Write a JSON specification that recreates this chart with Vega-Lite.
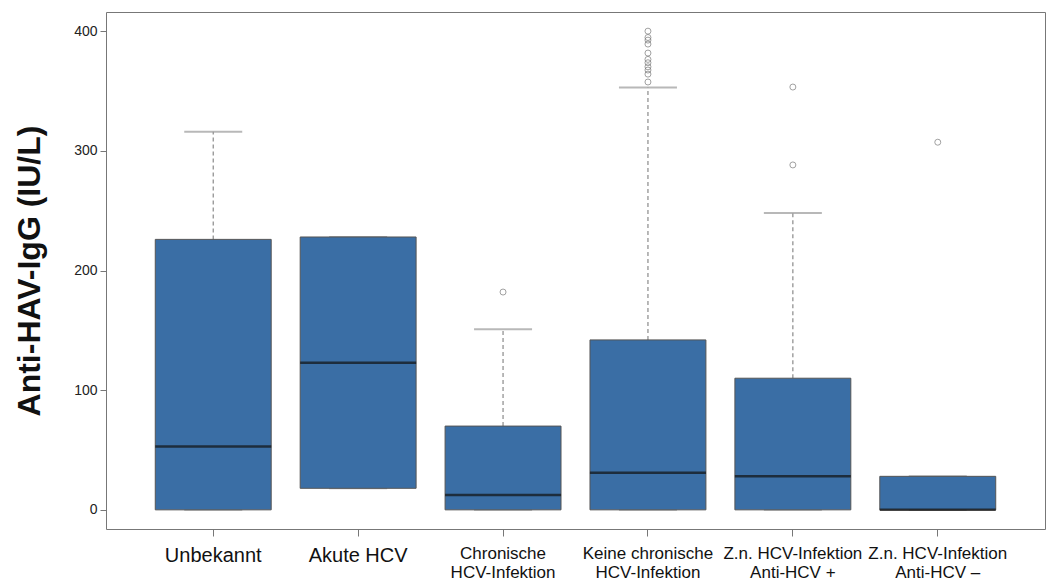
{
  "$schema": "https://vega.github.io/schema/vega-lite/v6.json",
  "width": 939,
  "height": 517,
  "autosize": {"type": "none"},
  "padding": {"left": 106, "top": 12, "right": 10, "bottom": 57},
  "background": "white",
  "config": {
    "font": "Liberation Sans",
    "view": {"stroke": "#777777", "strokeWidth": 1}
  },
  "datasets": {
    "boxes": [
      {"group": "Unbekannt", "lo": 0, "q1": 0, "med": 53, "q3": 226, "hi": 316},
      {"group": "Akute HCV", "lo": 18, "q1": 18, "med": 123, "q3": 228, "hi": 228},
      {"group": "Chronische|HCV-Infektion", "lo": 0, "q1": 0, "med": 12.5, "q3": 70, "hi": 151},
      {"group": "Keine chronische|HCV-Infektion", "lo": 0, "q1": 0, "med": 31, "q3": 142, "hi": 353},
      {"group": "Z.n. HCV-Infektion|Anti-HCV +", "lo": 0, "q1": 0, "med": 28, "q3": 110, "hi": 248},
      {"group": "Z.n. HCV-Infektion|Anti-HCV –", "lo": 0, "q1": 0, "med": 0, "q3": 28, "hi": 28}
    ],
    "outliers": [
      {"group": "Chronische|HCV-Infektion", "value": 182},
      {"group": "Keine chronische|HCV-Infektion", "value": 400},
      {"group": "Keine chronische|HCV-Infektion", "value": 394.7},
      {"group": "Keine chronische|HCV-Infektion", "value": 392.5},
      {"group": "Keine chronische|HCV-Infektion", "value": 389.2},
      {"group": "Keine chronische|HCV-Infektion", "value": 381.7},
      {"group": "Keine chronische|HCV-Infektion", "value": 376.4},
      {"group": "Keine chronische|HCV-Infektion", "value": 373.6},
      {"group": "Keine chronische|HCV-Infektion", "value": 370.2},
      {"group": "Keine chronische|HCV-Infektion", "value": 367.5},
      {"group": "Keine chronische|HCV-Infektion", "value": 364.1},
      {"group": "Keine chronische|HCV-Infektion", "value": 357.5},
      {"group": "Z.n. HCV-Infektion|Anti-HCV +", "value": 288.2},
      {"group": "Z.n. HCV-Infektion|Anti-HCV +", "value": 353.3},
      {"group": "Z.n. HCV-Infektion|Anti-HCV –", "value": 307.2}
    ]
  },
  "encoding": {
    "x": {
      "field": "group",
      "type": "nominal",
      "scale": {
        "type": "band",
        "domain": ["Unbekannt", "Akute HCV", "Chronische|HCV-Infektion", "Keine chronische|HCV-Infektion", "Z.n. HCV-Infektion|Anti-HCV +", "Z.n. HCV-Infektion|Anti-HCV –"],
        "paddingInner": 0.2,
        "paddingOuter": 0.34
      },
      "axis": {
        "title": null,
        "domain": false,
        "tickSize": 7,
        "tickColor": "#777777",
        "labelAngle": 0,
        "labelPadding": 9,
        "labelColor": "#111111",
        "labelFontSize": {"condition": {"test": "indexof(datum.value, '|') < 0", "value": 20}, "value": 17},
        "labelLineHeight": 19,
        "labelLimit": 400,
        "labelOverlap": false,
        "labelExpr": "split(datum.value, '|')"
      }
    }
  },
  "layer": [
    {
      "data": {"name": "boxes"},
      "mark": {"type": "rule", "color": "#8a8a8a", "strokeWidth": 1.2, "strokeDash": [4, 3]},
      "encoding": {
        "y": {
          "field": "q3",
          "type": "quantitative",
          "scale": {"domain": [-16, 416], "nice": false, "zero": false},
          "axis": {
            "title": "Anti-HAV-IgG (IU/L)",
            "titleFontSize": 32,
            "titleFontWeight": "bold",
            "titleColor": "#111111",
            "titlePadding": 27,
            "values": [0, 100, 200, 300, 400],
            "grid": false,
            "domain": false,
            "tickSize": 6,
            "tickColor": "#777777",
            "labelFontSize": 14,
            "labelColor": "#222222",
            "labelPadding": 3
          }
        },
        "y2": {"field": "hi"}
      }
    },
    {
      "data": {"name": "boxes"},
      "mark": {"type": "tick", "color": "#9a9a9a", "thickness": 2, "size": 58, "orient": "horizontal"},
      "encoding": {"y": {"field": "hi", "type": "quantitative"}}
    },
    {
      "data": {"name": "boxes"},
      "mark": {"type": "tick", "color": "#9a9a9a", "thickness": 2, "size": 58, "orient": "horizontal"},
      "encoding": {"y": {"field": "lo", "type": "quantitative"}}
    },
    {
      "data": {"name": "boxes"},
      "mark": {"type": "bar", "fill": "#3a6ea5", "stroke": "#555555", "strokeWidth": 1},
      "encoding": {
        "y": {"field": "q1", "type": "quantitative"},
        "y2": {"field": "q3"}
      }
    },
    {
      "data": {"name": "boxes"},
      "mark": {"type": "tick", "color": "#111111", "thickness": 2.5, "size": 116, "orient": "horizontal"},
      "encoding": {"y": {"field": "med", "type": "quantitative"}}
    },
    {
      "data": {"name": "outliers"},
      "mark": {"type": "point", "shape": "circle", "filled": false, "stroke": "#7a7a7a", "strokeWidth": 1, "size": 36},
      "encoding": {"y": {"field": "value", "type": "quantitative"}}
    }
  ]
}
